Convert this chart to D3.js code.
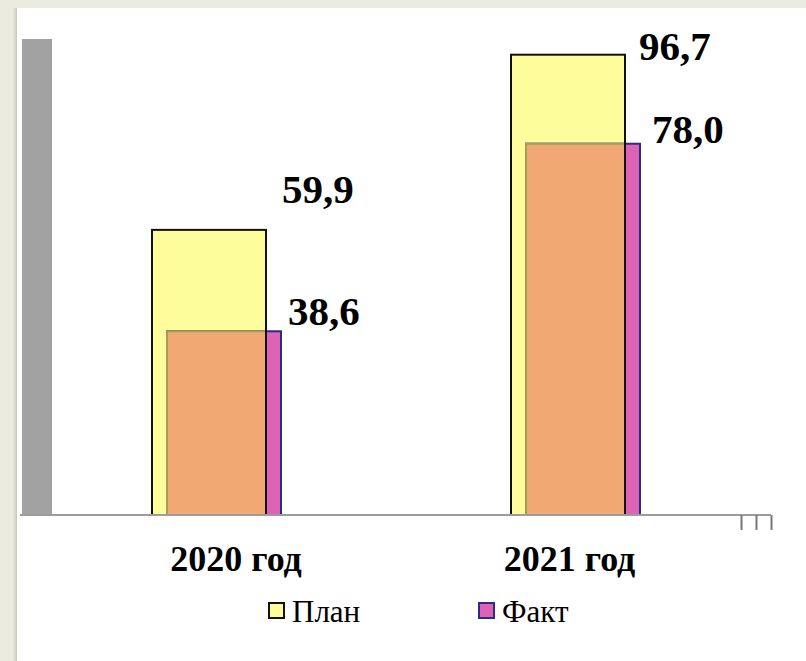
<!DOCTYPE html>
<html>
<head>
<meta charset="utf-8">
<script src="https://cdn.jsdelivr.net/npm/d3@7"></script>
<style>
  body { margin: 0; background: #ecebe0; }
  svg { display: block; }
</style>
</head>
<body>
<div id="chart"></div>
<script>
const categories = ["2020 год", "2021 год"];
const planValues = [59.9, 96.7];
const factValues = [38.6, 78.0];
const seriesNames = ["План", "Факт"];
const valueLabels = { plan: ["59,9", "96,7"], fact: ["38,6", "78,0"] };

// ручные сдвиги подписей (как в исходном слайде)
const labelNudge = {
  plan: [{ dx: 16, dy: -27 }, { dx: 14, dy: 5 }],
  fact: [{ dx: 7, dy: -6 }, { dx: 12, dy: -1 }]
};

const W = 806, H = 661;
const font = '"Liberation Serif", "Times New Roman", serif';
const colors = {
  plan: "#fdfd9c", planStroke: "#111",
  fact: "#de62b6", factStroke: "#2c2c86",
  overlap: "#f2a872", overlapStroke: "#a39a5c",
  wall: "#a2a2a2", axis: "#9c9c9c"
};

const svg = d3.select("#chart").append("svg")
  .attr("width", W).attr("height", H);

// рамка слайда
const defs = svg.append("defs");
const sh = defs.append("linearGradient").attr("id", "shadow")
  .attr("x1", "0%").attr("x2", "100%");
sh.append("stop").attr("offset", "0%").attr("stop-color", "#ecebe0");
sh.append("stop").attr("offset", "100%").attr("stop-color", "#c9c7ba");
svg.append("rect").attr("width", W).attr("height", H).attr("fill", "#ecebe0");
svg.append("rect").attr("x", 13).attr("y", 8).attr("width", 4).attr("height", H).attr("fill", "url(#shadow)");
svg.append("rect").attr("x", 17).attr("y", 8).attr("width", W - 17).attr("height", H).attr("fill", "#fff");

const y = d3.scaleLinear().domain([0, 100]).range([515, 39]);
const x = d3.scaleBand().domain(categories).range([37, 755]);
const xLabel = d3.scalePoint().domain(categories).range([236, 569.5]);

const barW = 114, shift = 15;
const planX = c => x(c) + x.bandwidth() / 2 - 64.5;
const factX = c => planX(c) + shift;

// серая «стенка»
svg.append("rect")
  .attr("x", 22).attr("width", 30)
  .attr("y", y(100)).attr("height", y(0) - y(100))
  .attr("fill", colors.wall);

const data = categories.map((c, i) => ({ c, i, plan: planValues[i], fact: factValues[i] }));

// план — заливка
svg.selectAll(".plan-fill").data(data).enter().append("rect")
  .attr("x", d => planX(d.c)).attr("width", barW)
  .attr("y", d => y(d.plan)).attr("height", d => y(0) - y(d.plan))
  .attr("fill", colors.plan);

// факт
svg.selectAll(".fact").data(data).enter().append("rect")
  .attr("x", d => factX(d.c)).attr("width", barW)
  .attr("y", d => y(d.fact)).attr("height", d => y(0) - y(d.fact))
  .attr("fill", colors.fact)
  .attr("stroke", colors.factStroke).attr("stroke-width", 2);

// пересечение план/факт
svg.selectAll(".overlap").data(data).enter().append("rect")
  .attr("x", d => factX(d.c)).attr("width", barW - shift)
  .attr("y", d => y(d.fact)).attr("height", d => y(0) - y(d.fact))
  .attr("fill", colors.overlap)
  .attr("stroke", colors.overlapStroke).attr("stroke-width", 2);

// план — контур
svg.selectAll(".plan-line").data(data).enter().append("rect")
  .attr("x", d => planX(d.c)).attr("width", barW)
  .attr("y", d => y(d.plan)).attr("height", d => y(0) - y(d.plan))
  .attr("fill", "none")
  .attr("stroke", colors.planStroke).attr("stroke-width", 2);

// ось X
svg.append("line")
  .attr("x1", 20).attr("x2", 771)
  .attr("y1", y(0)).attr("y2", y(0))
  .attr("stroke", colors.axis).attr("stroke-width", 2);

const tail = d3.scaleLinear().domain([0, 2]).range([741, 771]);
const tailAxis = svg.append("g")
  .attr("transform", `translate(0,${y(0)})`)
  .call(d3.axisBottom(tail).tickValues([0, 1, 2]).tickSize(15).tickFormat(""));
tailAxis.select(".domain").remove();
tailAxis.selectAll("line").attr("stroke", "#777").attr("stroke-width", 2);

// подписи значений
svg.selectAll(".lbl-plan").data(data).enter().append("text")
  .attr("x", d => planX(d.c) + barW + labelNudge.plan[d.i].dx)
  .attr("y", d => y(d.plan) + labelNudge.plan[d.i].dy)
  .style("font-family", font).style("font-weight", "bold").style("font-size", "41px")
  .text(d => valueLabels.plan[d.i]);

svg.selectAll(".lbl-fact").data(data).enter().append("text")
  .attr("x", d => factX(d.c) + barW + labelNudge.fact[d.i].dx)
  .attr("y", d => y(d.fact) + labelNudge.fact[d.i].dy)
  .style("font-family", font).style("font-weight", "bold").style("font-size", "41px")
  .text(d => valueLabels.fact[d.i]);

// подписи категорий
svg.selectAll(".cat").data(categories).enter().append("text")
  .attr("x", d => xLabel(d)).attr("y", 571)
  .attr("text-anchor", "middle")
  .style("font-family", font).style("font-weight", "bold").style("font-size", "36px")
  .text(d => d);

// легенда
const legend = svg.append("g").attr("transform", "translate(269,603)");
const legendX = d3.scalePoint().domain(seriesNames).range([0, 210]);
const legendFill = [colors.plan, colors.fact];
const legendStroke = [colors.planStroke, colors.factStroke];
seriesNames.forEach((s, i) => {
  const g = legend.append("g").attr("transform", `translate(${legendX(s)},0)`);
  g.append("rect").attr("width", 15).attr("height", 15)
    .attr("fill", legendFill[i]).attr("stroke", legendStroke[i]).attr("stroke-width", 2);
  g.append("text").attr("x", 23).attr("y", 19)
    .style("font-family", font).style("font-size", "31px")
    .text(s);
});
</script>
</body>
</html>
